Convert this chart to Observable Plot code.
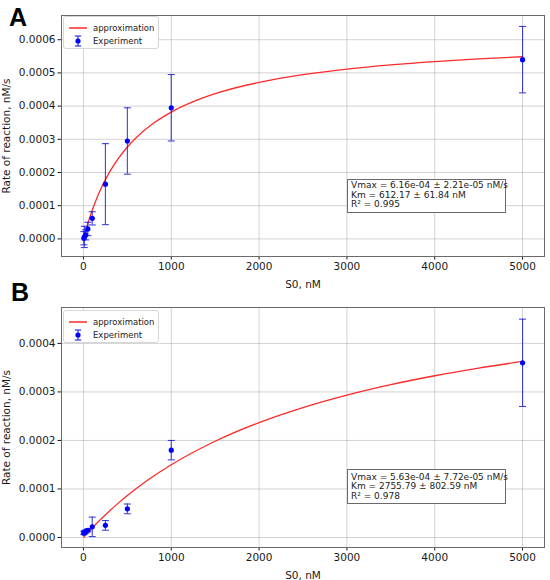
<!DOCTYPE html>
<html><head><meta charset="utf-8">
<script src="https://cdn.jsdelivr.net/npm/d3@7"></script>
<script src="https://cdn.jsdelivr.net/npm/@observablehq/plot@0.6"></script>
<style>
body{margin:0;background:#fff;font-family:"DejaVu Sans",sans-serif;}
#root{position:relative;width:550px;height:580px;overflow:hidden;background:#fff;}
.panel{position:absolute;left:0;width:550px;height:290px;}
.panel svg{display:block;}
.letter{position:absolute;font-family:"Liberation Sans",Arial,sans-serif;font-weight:bold;font-size:25px;line-height:1;color:#000;}
.legend{position:absolute;background:#fff;border:1px solid #d6d6d6;border-radius:3px;font-size:8.5px;color:#222;box-sizing:border-box;}
.legend .t{position:absolute;left:29px;line-height:10px;white-space:nowrap;}
.legend svg{position:absolute;}
.stats{position:absolute;background:#fff;border:1px solid #6a6a6a;font-size:9px;line-height:9.7px;color:#222;white-space:pre;box-sizing:border-box;padding-left:3px;}
</style>
</head><body>
<div id="root">
  <div class="panel" id="pa" style="top:0"></div>
  <div class="panel" id="pb" style="top:290px"></div>
  <div class="letter" style="left:9px;top:5px">A</div>
  <div class="letter" style="left:11px;top:280px">B</div>
</div>
<script>
// ---- data ----
const xTicks = [0, 1000, 2000, 3000, 4000, 5000];
const yTicksA = [0, 0.0001, 0.0002, 0.0003, 0.0004, 0.0005, 0.0006];
const yTicksB = [0, 0.0001, 0.0002, 0.0003, 0.0004];

const s0A = [5, 10, 25, 50, 100, 250, 500, 1000, 5000];
const rateA = [0.000002, 0.000006, 0.000012, 0.00003, 0.000062, 0.000165, 0.000295, 0.000395, 0.00054];
const errA = [0.00002, 0.000032, 0.000015, 0.00002, 0.00002, 0.000122, 0.0001, 0.0001, 0.0001];

const s0B = [5, 10, 25, 50, 100, 250, 500, 1000, 5000];
const rateB = [0.000009, 0.000011, 0.000012, 0.000015, 0.000022, 0.000025, 0.000059, 0.00018, 0.00036];
const errB = [0.000003, 0.000003, 0.000003, 0.000003, 0.00002, 0.00001, 0.00001, 0.00002, 0.00009];

const fitXA = [5, 10, 25, 50, 100, 150, 200, 300, 400, 500, 600, 800, 1000, 1250, 1500, 2000, 2500, 3000, 3500, 4000, 4500, 5000];
const fitYA = [0.00000499, 0.0000099, 0.00002417, 0.00004651, 0.0000865, 0.00012123, 0.00015169, 0.00020259, 0.00024344, 0.00027694, 0.00030491, 0.00034897, 0.00038209, 0.0004135, 0.00043747, 0.00047164, 0.00049483, 0.0005116, 0.0005243, 0.00053424, 0.00054223, 0.00054881];

const fitXB = [5, 10, 50, 100, 200, 300, 400, 500, 750, 1000, 1500, 2000, 2500, 3000, 3500, 4000, 4500, 5000];
const fitYB = [0.00000102, 0.00000204, 0.00001003, 0.00001971, 0.00003809, 0.00005527, 0.00007136, 0.00008646, 0.00012044, 0.0001499, 0.00019844, 0.00023676, 0.0002678, 0.00029345, 0.00031499, 0.00033334, 0.00034917, 0.00036296];

const statsA = ["Vmax = 6.16e-04 ± 2.21e-05 nM/s", "Km = 612.17 ± 61.84 nM", "R² = 0.995"];
const statsB = ["Vmax = 5.63e-04 ± 7.72e-05 nM/s", "Km = 2755.79 ± 802.59 nM", "R² = 0.978"];

// ---- drawing ----
const cap = {draw(ctx, size) { const w = Math.sqrt(size / Math.PI); ctx.moveTo(-w, 0); ctx.lineTo(w, 0); }};
const barColor = "#2020d8";
const fitColor = "#ff2a2a";

function panel(xs, ys, es, fx, fy, yDomain, yTicks, mt, mb) {
  const pts = xs.map((x, i) => ({x, y: ys[i], lo: ys[i] - es[i], hi: ys[i] + es[i]}));
  const fit = fx.map((x, i) => ({x, y: fy[i]}));
  return Plot.plot({
    width: 550, height: 290,
    marginLeft: 61, marginRight: 6, marginTop: mt, marginBottom: mb,
    style: {fontFamily: "DejaVu Sans", fontSize: "10.5px", color: "#1a1a1a", background: "white", overflow: "visible"},
    x: {domain: [-250, 5250]},
    y: {domain: yDomain},
    marks: [
      Plot.gridX(xTicks, {stroke: "#b0b0b0", strokeOpacity: 0.7, strokeWidth: 0.8}),
      Plot.gridY(yTicks, {stroke: "#b0b0b0", strokeOpacity: 0.7, strokeWidth: 0.8}),
      Plot.axisX({ticks: xTicks, tickSize: 3.5, tickPadding: 2.5, tickFormat: d => String(d),
        label: "S0, nM", labelAnchor: "center", labelArrow: "none", labelOffset: 31.5}),
      Plot.axisY({ticks: yTicks, tickSize: 3.5, tickPadding: 2.5, tickFormat: d3.format(".4f"),
        label: "Rate of reaction, nM/s", labelAnchor: "center", labelArrow: "none", labelOffset: 59}),
      Plot.frame({stroke: "#6a6a6a", strokeWidth: 1}),
      Plot.line(fit, {x: "x", y: "y", stroke: fitColor, strokeWidth: 1.3, curve: "monotone-x"}),
      Plot.ruleX(pts, {x: "x", y1: "lo", y2: "hi", stroke: barColor, strokeWidth: 1.1, strokeOpacity: 0.85}),
      Plot.dot(pts, {x: "x", y: "lo", symbol: cap, r: 3.5, stroke: barColor, strokeWidth: 1.1, strokeOpacity: 0.85}),
      Plot.dot(pts, {x: "x", y: "hi", symbol: cap, r: 3.5, stroke: barColor, strokeWidth: 1.1, strokeOpacity: 0.85}),
      Plot.dot(pts, {x: "x", y: "y", r: 2.6, fill: "#0000ff", stroke: "none"})
    ]
  });
}

document.getElementById("pa").append(panel(s0A, rateA, errA, fitXA, fitYA, [-0.000053, 0.000673], yTicksA, 15, 34));
document.getElementById("pb").append(panel(s0B, rateB, errB, fitXB, fitYB, [-0.0000206, 0.000474], yTicksB, 17, 33));

const root = document.getElementById("root");
function legend(left, top) {
  const d = document.createElement("div");
  d.className = "legend";
  Object.assign(d.style, {left: left + "px", top: top + "px", width: "96px", height: "33px"});
  d.innerHTML = `<svg width="20" height="6" style="left:4px;top:7.5px" viewBox="0 0 20 6">
      <line x1="1" y1="3" x2="19" y2="3" stroke="${fitColor}" stroke-width="1.5"/>
    </svg>
    <div class="t" style="top:5.5px">approximation</div>
    <svg width="10" height="12" style="left:9px;top:18px" viewBox="0 0 10 12">
      <line x1="5" y1="1" x2="5" y2="11" stroke="${barColor}" stroke-width="1.1"/>
      <line x1="1.8" y1="1" x2="8.2" y2="1" stroke="${barColor}" stroke-width="1.1"/>
      <line x1="1.8" y1="11" x2="8.2" y2="11" stroke="${barColor}" stroke-width="1.1"/>
      <circle cx="5" cy="6" r="2.6" fill="#0000ff"/>
    </svg>
    <div class="t" style="top:19px">Experiment</div>`;
  root.append(d);
}
function stats(left, top, h, pt, lines) {
  const d = document.createElement("div");
  d.className = "stats";
  Object.assign(d.style, {left: left + "px", top: top + "px", width: "159px", height: h + "px", paddingTop: pt + "px"});
  d.textContent = lines.join("\n");
  root.append(d);
}
legend(63, 16);
legend(63, 310);
stats(347, 179, 34, 1, statsA);
stats(347, 469, 35, 2.5, statsB);
</script>
</body></html>
